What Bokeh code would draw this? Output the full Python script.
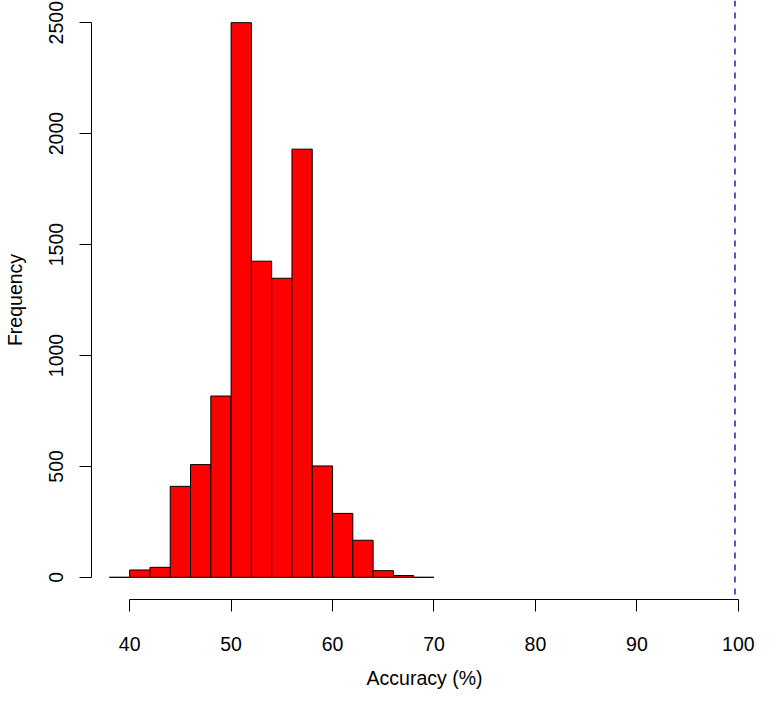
from bokeh.plotting import figure
from bokeh.models import Range1d, FixedTicker, Span, ColumnDataSource
from bokeh.embed import file_html
from bokeh.resources import INLINE

# Histogram data (bin width 2)
bin_left = [38, 40, 42, 44, 46, 48, 50, 52, 54, 56, 58, 60, 62, 64, 66, 68]
bin_right = [40, 42, 44, 46, 48, 50, 52, 54, 56, 58, 60, 62, 64, 66, 68, 70]
counts = [0, 33, 45, 410, 508, 817, 2500, 1425, 1348, 1930, 502, 288, 167, 30, 8, 0]
bottoms = [0] * len(counts)

x_ticks = [40, 50, 60, 70, 80, 90, 100]
y_ticks = [0, 500, 1000, 1500, 2000, 2500]
reference_accuracy = 99.67

FONT = "Liberation Sans"
FS = "19.5px"

p = figure(width=757, height=695, output_backend="svg", toolbar_location=None,
           x_range=Range1d(36.24, 101.89), y_range=Range1d(-100, 2600),
           min_border_left=91, min_border_right=0, min_border_top=0,
           min_border_bottom=96)

src = ColumnDataSource(dict(left=bin_left, right=bin_right, top=counts, bottom=bottoms))
p.quad(left="left", right="right", top="top", bottom="bottom", source=src,
       fill_color="#FF0000", line_color="black", line_width=1)

p.add_layout(Span(location=reference_accuracy, dimension="height",
                  line_color="#2C2CB4", line_width=1.6, line_dash="6 6"))

p.grid.visible = False
p.outline_line_color = None
p.background_fill_color = "white"
p.border_fill_color = "white"

for ax in (p.xaxis[0], p.yaxis[0]):
    ax.major_tick_out = 12
    ax.major_tick_in = 0
    ax.minor_tick_out = 0
    ax.minor_tick_in = 0
    ax.axis_line_color = "black"
    ax.major_tick_line_color = "black"
    ax.major_label_text_font = FONT
    ax.major_label_text_font_size = FS
    ax.major_label_text_color = "black"
    ax.axis_label_text_font = FONT
    ax.axis_label_text_font_size = FS
    ax.axis_label_text_font_style = "normal"
    ax.axis_label_text_color = "black"

xa = p.xaxis[0]
xa.ticker = FixedTicker(ticks=x_ticks)
xa.bounds = (x_ticks[0], x_ticks[-1])
xa.axis_label = "Accuracy (%)"
xa.major_label_standoff = 25
xa.axis_label_standoff = 13

ya = p.yaxis[0]
ya.ticker = FixedTicker(ticks=y_ticks)
ya.bounds = (y_ticks[0], y_ticks[-1])
ya.axis_label = "Frequency"
ya.major_label_orientation = "vertical"
ya.major_label_standoff = 16
ya.axis_label_standoff = 21

open("out.html", "w").write(file_html(p, INLINE))
